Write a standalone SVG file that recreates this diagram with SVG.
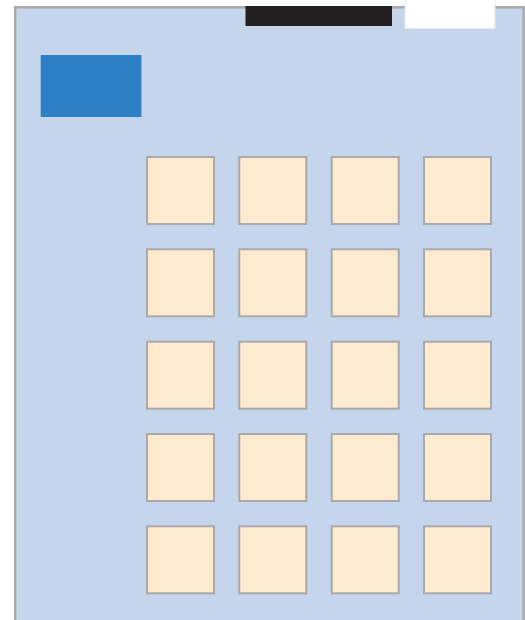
<svg xmlns="http://www.w3.org/2000/svg" width="525" height="620" viewBox="0 0 525 620">
<style>
.cell{fill:#FEEBCF;stroke:#A9A9AB;stroke-width:2}
</style>
<rect width="525" height="620" fill="#FFFFFF"/>
<g id="panel">
<rect x="15.2" y="7.3" width="508.4" height="625" fill="#C5D5EC" stroke="#A9A9AB" stroke-width="2.5"/>
</g>
<g id="topbar">
<rect x="245.5" y="6" width="146.5" height="20" fill="#231F20"/>
</g>
<g id="tab">
<rect x="405" y="-2" width="90" height="30.5" fill="#FFFFFF" stroke="#E3E8F2" stroke-width="1"/>
</g>
<g id="blue">
<rect x="40.7" y="55" width="100.7" height="62" fill="#2D80C6"/>
</g>
<g id="grid">
<g id="r1">
<rect class="cell" x="147" y="157" width="67" height="67"/>
<rect class="cell" x="239.3" y="157" width="67" height="67"/>
<rect class="cell" x="331.7" y="157" width="67" height="67"/>
<rect class="cell" x="424" y="157" width="67" height="67"/>
</g>
<g id="r2">
<rect class="cell" x="147" y="249.3" width="67" height="67"/>
<rect class="cell" x="239.3" y="249.3" width="67" height="67"/>
<rect class="cell" x="331.7" y="249.3" width="67" height="67"/>
<rect class="cell" x="424" y="249.3" width="67" height="67"/>
</g>
<g id="r3">
<rect class="cell" x="147" y="341.7" width="67" height="67"/>
<rect class="cell" x="239.3" y="341.7" width="67" height="67"/>
<rect class="cell" x="331.7" y="341.7" width="67" height="67"/>
<rect class="cell" x="424" y="341.7" width="67" height="67"/>
</g>
<g id="r4">
<rect class="cell" x="147" y="434" width="67" height="67"/>
<rect class="cell" x="239.3" y="434" width="67" height="67"/>
<rect class="cell" x="331.7" y="434" width="67" height="67"/>
<rect class="cell" x="424" y="434" width="67" height="67"/>
</g>
<g id="r5">
<rect class="cell" x="147" y="526.3" width="67" height="67"/>
<rect class="cell" x="239.3" y="526.3" width="67" height="67"/>
<rect class="cell" x="331.7" y="526.3" width="67" height="67"/>
<rect class="cell" x="424" y="526.3" width="67" height="67"/>
</g>
</g>
<g id="connectors"/>
</svg>
